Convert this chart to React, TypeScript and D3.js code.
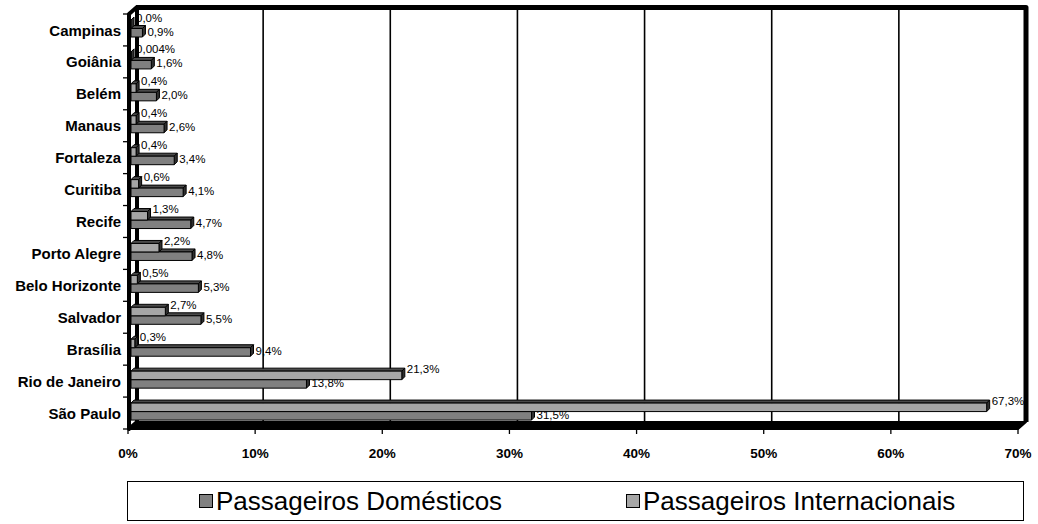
import React from 'react';
import * as d3 from 'd3';

// Participação de cada aeroporto no movimento de passageiros (%)
const cities = [
  'Campinas', 'Goiânia', 'Belém', 'Manaus', 'Fortaleza', 'Curitiba', 'Recife',
  'Porto Alegre', 'Belo Horizonte', 'Salvador', 'Brasília', 'Rio de Janeiro', 'São Paulo',
];
const internacionais = [0.0, 0.004, 0.4, 0.4, 0.4, 0.6, 1.3, 2.2, 0.5, 2.7, 0.3, 21.3, 67.3];
const domesticos = [0.9, 1.6, 2.0, 2.6, 3.4, 4.1, 4.7, 4.8, 5.3, 5.5, 9.4, 13.8, 31.5];
const xTicks = [0, 10, 20, 30, 40, 50, 60, 70];
const seriesNames = ['Passageiros Domésticos', 'Passageiros Internacionais'];

const W = 1038;
const H = 524;
const FONT = 'Arial, "Liberation Sans", sans-serif';

// front plane of the 3-D box and the depth offset to the back wall
const X0 = 128;
const X1 = 1018;
const Y0 = 14;
const Y1 = 429;
const DX = 8;
const DY = 7;
const BAR_SHIFT = 3; // bars sit slightly behind the front plane
const BD = 3; // bar depth

const COLOR_DOM = '#808080';
const COLOR_INT = '#a6a6a6';

// legend box
const LG_X = 127.5;
const LG_Y = 481.5;
const LG_W = 896;
const LG_H = 39;
const LG_FONT = 26;
const SW = 13;
const LG_ENTRY_X = [199, 626];

const fmt = (v: number) =>
  (v > 0 && v < 0.01 ? v.toFixed(3) : v.toFixed(1)).replace('.', ',') + '%';

function Bar3D({ x0, x1, yTop, yBot, fill }: { x0: number; x1: number; yTop: number; yBot: number; fill: string }) {
  const top = [
    [x0, yTop], [x0 + BD, yTop - BD], [x1 + BD, yTop - BD], [x1, yTop],
  ].map((p) => p.join(',')).join(' ');
  const end = [
    [x1, yTop], [x1 + BD, yTop - BD], [x1 + BD, yBot - BD], [x1, yBot],
  ].map((p) => p.join(',')).join(' ');
  return (
    <g stroke="#000" strokeWidth={1} strokeLinejoin="round">
      <polygon points={top} fill="#4a4a4a" />
      <polygon points={end} fill="#303030" />
      <rect x={x0} y={yTop} width={Math.max(0, x1 - x0)} height={yBot - yTop} fill={fill} />
    </g>
  );
}

export default function App() {
  const x = d3.scaleLinear().domain([0, 70]).range([X0, X1]);
  const y = d3.scaleBand<string>().domain(cities).range([Y0, Y1]).paddingInner(0).paddingOuter(0);
  const bw = y.bandwidth();
  const boundaries = d3.range(cities.length + 1).map((i) => Y0 + i * bw);

  const leftWall = [[X0 + 1, Y1], [X0 + 1, Y0], [X0 + 1 + DX, Y0 - DY], [X0 + 1 + DX, Y1 - DY]]
    .map((p) => p.join(',')).join(' ');
  const floor = [[X0 + 1, Y1], [X1, Y1], [X1 + DX, Y1 - DY], [X0 + 1 + DX, Y1 - DY]]
    .map((p) => p.join(',')).join(' ');

  const order = d3.range(cities.length).reverse();

  return (
    <svg width={W} height={H} style={{ position: 'absolute', left: 0, top: 0, background: '#fff' }}>
      {/* back wall gridlines */}
      <g stroke="#000" strokeWidth={1.6}>
        {xTicks.slice(1, -1).map((t) => (
          <line key={t} x1={x(t) + DX} x2={x(t) + DX} y1={Y0 - DY} y2={Y1 - DY} />
        ))}
      </g>
      {/* back wall border: top and right edges */}
      <path
        d={`M${X0 + DX},${Y0 - DY + 0.5}H${X1 + DX}V${Y1 - DY}`}
        fill="none"
        stroke="#000"
        strokeWidth={5}
        strokeLinejoin="round"
      />
      {/* floor (bottom wall) */}
      <polygon points={floor} fill="#000" stroke="#000" strokeWidth={2} strokeLinejoin="round" />
      {/* side wall (left) */}
      <polygon points={leftWall} fill="#fff" stroke="#000" strokeWidth={4} strokeLinejoin="round" />

      {/* category ticks */}
      <g stroke="#000" strokeWidth={1.3}>
        {boundaries.map((b, i) => (
          <line key={i} x1={X0 - 5} x2={X0} y1={b} y2={b} />
        ))}
      </g>
      {/* value ticks */}
      <g stroke="#000" strokeWidth={1.3}>
        {xTicks.map((t) => (
          <line key={t} x1={x(t)} x2={x(t)} y1={Y1} y2={Y1 + 5} />
        ))}
      </g>

      {/* bars: lower (domestic) then upper (international), from bottom category up */}
      {order.map((i) => {
        const c = cities[i];
        const yb = y(c)!;
        const bx0 = x(0) + BAR_SHIFT;
        return (
          <g key={c}>
            <Bar3D x0={bx0} x1={x(domesticos[i]) + BAR_SHIFT} yTop={yb + 14.5} yBot={yb + 23} fill={COLOR_DOM} />
            <Bar3D x0={bx0} x1={x(internacionais[i]) + BAR_SHIFT} yTop={yb + 6} yBot={yb + 14.5} fill={COLOR_INT} />
          </g>
        );
      })}

      {/* data labels */}
      <g fontFamily={FONT} fontSize={11.5} fill="#000">
        {cities.map((c, i) => {
          const yb = y(c)!;
          return (
            <g key={c}>
              <text x={x(internacionais[i]) + BAR_SHIFT + BD + 2} y={yb + 3.5} dominantBaseline="central">
                {fmt(internacionais[i])}
              </text>
              <text x={x(domesticos[i]) + BAR_SHIFT + BD + 2} y={yb + 17.5} dominantBaseline="central">
                {fmt(domesticos[i])}
              </text>
            </g>
          );
        })}
      </g>

      {/* category labels */}
      <g fontFamily={FONT} fontSize={15} fontWeight="bold" textAnchor="end" fill="#000">
        {cities.map((c) => (
          <text key={c} x={121} y={y(c)! + 21.5}>{c}</text>
        ))}
      </g>

      {/* value axis labels */}
      <g fontFamily={FONT} fontSize={13.5} fontWeight="bold" textAnchor="middle" fill="#000">
        {xTicks.map((t) => (
          <text key={t} x={x(t)} y={458}>{`${t}%`}</text>
        ))}
      </g>

      {/* legend */}
      <rect x={LG_X} y={LG_Y} width={LG_W} height={LG_H} fill="#fff" stroke="#000" strokeWidth={1} />
      <g fontFamily={FONT} fontSize={LG_FONT} fill="#000">
        {seriesNames.map((name, i) => {
          const lx = LG_ENTRY_X[i];
          return (
            <g key={name}>
              <rect x={lx + 0.5} y={494.5} width={SW} height={SW} fill={i === 0 ? COLOR_DOM : COLOR_INT} stroke="#000" strokeWidth={1} />
              <text x={lx + SW + 4} y={510}>{name}</text>
            </g>
          );
        })}
      </g>
    </svg>
  );
}
